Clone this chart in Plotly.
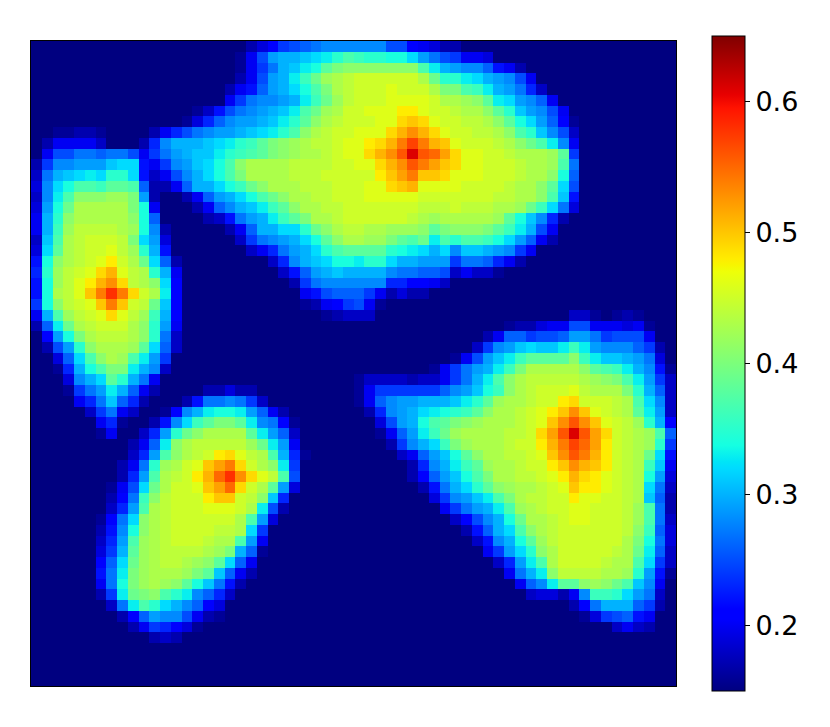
import numpy as np
import plotly.graph_objects as go

N_CELLS = 60
BACKGROUND = 15
TICK_VALUES = [0.2, 0.3, 0.4, 0.5, 0.6]
TICK_LABELS = ["0.2", "0.3", "0.4", "0.5", "0.6"]

# matplotlib's jet, sampled at its own breakpoints
JET = [
    [0.0, "rgb(0,0,128)"], [0.11, "rgb(0,0,255)"], [0.125, "rgb(0,0,255)"],
    [0.34, "rgb(0,219,255)"], [0.35, "rgb(0,229,247)"], [0.375, "rgb(21,255,226)"],
    [0.64, "rgb(238,255,8)"], [0.65, "rgb(247,246,0)"], [0.66, "rgb(255,236,0)"],
    [0.89, "rgb(255,19,0)"], [0.91, "rgb(232,0,0)"], [1.0, "rgb(128,0,0)"],
]

# values, in hundredths: (row, first column, cells)
TOP_BLOB = [
    (0, 20, [17,19,21,24,25,26,27,28,28,28,28,28,28,25,25,21,20,19,17,17]),
    (1, 19, [16,20,25,29,30,30,31,32,33,35,37,36,35,35,34,34,32,29,27,25,24,20,20,19]),
    (2, 19, [16,20,24,27,30,31,33,34,38,40,41,41,41,41,41,41,41,37,33,30,29,28,28,26,22,20,17]),
    (3, 19, [17,20,25,29,30,33,36,39,42,43,44,45,45,45,45,45,45,43,39,35,35,33,32,30,29,28,25,20]),
    (4, 18, [17,20,22,26,29,30,32,34,37,40,43,44,45,45,45,46,45,45,45,43,40,40,37,36,33,30,29,27,23,18]),
    (5, 18, [20,24,27,28,28,29,30,33,36,39,42,44,45,45,45,46,46,46,46,45,43,43,42,41,38,33,32,29,28,26,20]),
    (6, 15, [16,18,22,25,27,28,29,30,31,33,37,39,42,43,45,45,46,46,46,48,48,46,45,45,44,43,43,41,38,35,31,29,28,25,20]),
    (7, 14, [16,19,23,26,28,29,29,30,31,33,35,38,41,43,44,45,45,45,46,46,49,50,49,46,45,45,44,44,43,41,38,34,32,29,26,21,16]),
    (8, 14, [25,27,28,29,29,30,31,32,33,35,37,41,43,44,45,45,46,46,46,49,51,53,51,49,46,45,45,44,44,43,41,37,35,31,28,25,18]),
    (9, 14, [30,30,31,32,33,35,36,38,40,41,42,43,44,44,45,46,46,48,49,51,54,57,54,51,50,46,45,45,45,44,43,41,39,37,33,28,20]),
    (10, 14, [30,31,31,33,35,36,37,38,40,41,42,43,43,44,45,46,46,49,51,53,56,61,56,55,52,49,46,46,45,45,44,43,43,43,42,38,24]),
    (11, 14, [29,31,32,34,37,41,43,43,43,43,44,44,44,44,45,45,46,46,49,51,53,56,54,52,50,49,46,46,45,45,45,44,43,43,42,37,27]),
    (12, 14, [28,30,32,34,37,40,43,43,43,43,44,44,44,45,45,45,45,45,48,50,52,54,50,50,49,46,46,46,45,45,45,44,43,43,41,34,26]),
    (13, 14, [26,30,30,32,34,36,39,41,43,43,43,44,44,44,45,45,45,46,46,49,50,51,46,46,46,46,45,45,45,45,44,43,43,41,38,32,25]),
    (14, 14, [17,20,26,29,30,32,34,37,39,41,43,43,44,44,45,45,45,46,46,46,46,46,45,45,45,45,45,45,45,44,44,43,43,41,37,31,22]),
    (15, 15, [17,20,26,28,30,31,33,36,38,41,43,43,44,44,45,45,45,45,45,45,45,44,44,44,45,44,44,44,43,43,42,39,36,32,27,19]),
    (16, 16, [17,18,22,27,29,30,33,36,38,40,43,43,44,45,45,45,45,45,45,44,43,42,43,43,43,43,43,42,38,34,31,28,23,17]),
    (17, 18, [17,20,26,30,30,32,32,35,39,41,43,44,44,43,43,42,42,42,41,38,40,41,41,41,40,38,36,33,30,25,20]),
    (18, 19, [18,24,27,28,29,30,32,34,38,41,43,43,42,42,40,38,37,39,33,37,35,37,37,36,34,32,29,26,20,17]),
    (19, 20, [18,20,23,27,29,30,32,35,37,38,38,38,38,35,34,33,32,30,32,28,31,31,30,29,28,24,20]),
    (20, 22, [18,23,28,30,31,32,34,34,33,35,35,32,30,30,29,29,29,24,27,27,26,23,20,17]),
    (21, 23, [18,22,26,29,30,31,30,30,30,30,28,27,27,26,26,25,18,20,18,18,16]),
    (22, 24, [17,24,27,28,28,28,28,28,28,23,23,21,21,20,18]),
    (23, 25, [20,22,25,26,26,26,24,20,17,19,17,17]),
    (24, 25, [16,17,20,21,24,25,20,16]),
    (25, 27, [16,17,18,18,18]),
]

LEFT_BLOB = [
    (8, 0, [15,15,16,16,17,17,16,15,15,15,15,17,20,23]),
    (9, 0, [15,17,20,20,20,20,18,15,15,15,17,23,28,30]),
    (10, 0, [15,20,25,25,27,27,26,27,27,25,20,24,27,29]),
    (11, 0, [17,24,28,28,29,29,29,31,32,32,22,20,24,28]),
    (12, 0, [18,27,30,31,32,33,32,35,35,32,22,18,20,25]),
    (13, 0, [19,28,32,34,37,37,36,38,38,37,26,17,17,20]),
    (14, 0, [18,28,33,37,41,41,41,42,42,40,29,17,15,15]),
    (15, 0, [19,29,34,39,43,43,43,43,43,40,34,20,15,15]),
    (16, 0, [20,30,35,41,43,43,43,43,43,41,34,26,15,15]),
    (17, 0, [20,30,36,42,44,44,44,44,43,42,34,28,17,15]),
    (18, 0, [18,31,37,43,44,45,45,45,44,40,32,29,19,15]),
    (19, 0, [19,32,38,43,44,45,45,46,44,42,35,30,22,15]),
    (20, 0, [22,34,41,43,44,45,46,48,45,43,39,32,26,17]),
    (21, 0, [23,35,42,44,45,46,49,51,46,44,43,35,30,20]),
    (22, 0, [22,34,42,44,46,48,51,53,49,44,43,41,32,21]),
    (23, 0, [22,34,43,44,46,50,54,58,54,49,45,43,33,21]),
    (24, 0, [24,34,41,44,45,46,50,54,50,45,44,39,31,21]),
    (25, 0, [20,30,37,42,44,45,46,49,46,44,42,36,30,21]),
    (26, 0, [17,26,33,39,43,44,45,45,45,43,41,35,29,20]),
    (27, 0, [15,21,29,34,40,43,44,44,44,43,41,35,27,18]),
    (28, 0, [15,17,25,29,35,41,43,43,43,42,38,32,26,18]),
    (29, 1, [15,19,26,32,37,41,43,42,37,33,29,24,15]),
    (30, 2, [16,23,30,34,37,40,40,33,30,28,18]),
    (31, 3, [19,28,30,32,38,35,30,27,20]),
    (32, 3, [16,24,27,29,33,30,26,20,17]),
    (33, 4, [20,23,27,31,26,23,17]),
    (34, 5, [18,24,27,20,18]),
    (35, 6, [20,23,16]),
    (36, 6, [16,20]),
]

LOWER_BLOB = [
    (32, 16, [17,17,19,17,17]),
    (33, 14, [17,22,27,27,28,27,24,18]),
    (34, 12, [16,21,28,30,33,34,34,33,29,26,20,17]),
    (35, 11, [17,22,28,32,36,38,40,40,38,33,28,27,21,16]),
    (36, 10, [18,23,29,35,39,41,43,43,43,43,38,33,29,26,18]),
    (37, 9, [17,20,26,33,41,43,44,44,44,44,44,42,39,33,29,20]),
    (38, 9, [18,23,29,37,41,43,44,45,48,49,46,44,43,37,30,23,16]),
    (39, 8, [17,20,27,35,42,43,45,46,50,52,54,49,45,43,41,33,24]),
    (40, 8, [17,23,29,37,43,44,45,48,51,55,58,53,49,46,44,37,25]),
    (41, 7, [16,20,25,32,39,43,45,45,46,50,52,55,49,45,43,38,29,19]),
    (42, 7, [17,21,27,36,41,44,45,45,45,48,50,50,45,44,41,31,23]),
    (43, 7, [18,23,29,37,43,44,45,45,45,46,46,46,45,43,33,25,17]),
    (44, 6, [16,21,27,32,41,43,44,45,45,45,45,45,45,43,37,29,19]),
    (45, 6, [17,22,28,34,41,43,44,45,45,45,45,44,44,43,32,24]),
    (46, 6, [18,23,29,37,42,43,44,45,45,45,44,43,43,37,29,20]),
    (47, 6, [19,24,30,38,42,43,44,44,44,44,43,42,40,30,26,16]),
    (48, 6, [21,26,32,39,42,43,44,44,43,42,41,38,32,26,20]),
    (49, 6, [22,27,33,40,42,43,43,43,42,40,38,31,26,20,17]),
    (50, 6, [20,27,34,40,42,43,42,41,38,34,31,27,22,17]),
    (51, 6, [17,24,33,39,40,41,37,35,33,28,26,23,18]),
    (52, 7, [18,27,33,37,35,32,30,28,26,21,19]),
    (53, 8, [17,21,26,29,28,28,25,20,17,16]),
    (54, 9, [17,20,24,23,21,19,16]),
    (55, 11, [17,18,17]),
]

RIGHT_BLOB = [
    (25, 50, [18,18,16,15,16,17,16]),
    (26, 44, [16,17,17,19,20,20,25,25,20,20,20,19,20,16]),
    (27, 42, [17,20,26,26,24,25,25,26,29,29,27,24,25,25,25,20]),
    (28, 41, [18,24,28,29,31,32,31,31,33,36,33,29,28,28,28,26,24,17]),
    (29, 39, [16,20,25,29,31,33,36,38,38,38,38,41,36,33,31,31,30,29,27,19]),
    (30, 37, [16,20,24,27,29,30,33,36,40,43,43,43,43,43,41,38,37,36,33,30,28,22,16]),
    (31, 30, [16,18,18,18,18,17,18,18,20,24,27,30,33,37,41,43,44,44,44,44,44,43,42,41,40,37,33,29,24,18]),
    (32, 30, [16,20,24,24,24,24,24,24,26,28,29,31,34,36,41,43,44,45,45,45,46,44,43,43,43,40,35,30,26,18]),
    (33, 30, [16,20,26,28,29,29,30,30,30,31,33,35,38,42,43,43,44,45,45,48,49,45,45,45,44,43,37,32,28,18]),
    (34, 31, [17,23,28,29,30,32,33,34,35,36,38,41,43,43,44,45,46,48,50,53,50,46,45,44,43,38,33,29,18]),
    (35, 32, [19,25,29,30,34,37,38,40,41,42,43,43,43,44,45,46,50,53,56,53,50,46,45,44,42,35,30,21]),
    (36, 32, [16,20,26,29,33,36,39,42,43,43,43,43,44,44,45,49,52,56,61,56,52,49,45,44,43,42,37,26]),
    (37, 33, [17,24,28,30,32,36,40,42,43,43,43,44,45,45,48,51,54,57,55,52,48,45,44,43,42,35,24]),
    (38, 34, [18,20,26,29,31,34,38,41,43,43,44,44,45,46,50,53,56,54,51,48,45,44,43,39,32,22]),
    (39, 35, [17,23,28,30,33,36,38,42,43,43,44,45,45,48,50,53,51,50,48,45,44,43,36,31,20]),
    (40, 35, [17,21,26,29,31,34,37,40,43,43,44,44,45,46,48,51,49,48,46,45,44,43,34,29,19]),
    (41, 36, [17,22,27,30,32,35,38,41,42,43,43,44,45,46,50,48,48,46,45,44,43,32,27,18]),
    (42, 37, [19,24,28,29,31,33,37,40,43,44,44,45,45,48,46,46,45,45,44,43,31,26,17]),
    (43, 38, [20,24,27,29,30,33,37,42,43,44,45,45,46,46,45,45,45,44,42,37,27,17]),
    (44, 39, [18,21,25,28,30,34,39,43,43,44,45,46,46,45,45,45,44,42,37,27,18]),
    (45, 40, [17,22,26,30,32,37,41,43,44,45,45,45,45,45,45,44,41,36,26,19]),
    (46, 41, [18,22,28,30,34,38,42,44,45,45,45,45,45,45,43,40,34,27,19]),
    (47, 42, [20,24,29,32,35,41,43,45,45,45,45,45,44,43,39,33,26,18]),
    (48, 43, [18,23,29,33,37,43,45,45,45,45,44,43,43,37,32,24,18]),
    (49, 44, [20,27,30,33,41,44,44,44,44,43,43,42,35,29,22,16]),
    (50, 45, [20,26,28,33,38,38,41,42,41,39,37,31,28,20]),
    (51, 46, [18,19,19,17,20,28,36,36,35,32,29,27,18]),
    (52, 50, [17,21,27,30,30,30,26,24,17]),
    (53, 51, [16,19,24,25,26,22,20]),
    (54, 54, [18,20,18,17]),
]

z = np.full((N_CELLS, N_CELLS), BACKGROUND / 100)
for blob in (TOP_BLOB, LEFT_BLOB, LOWER_BLOB, RIGHT_BLOB):
    for row, col, cells in blob:
        z[row, col:col + len(cells)] = np.array(cells) / 100

W, H = 830, 727

fig = go.Figure(go.Heatmap(
    z=z,
    zmin=0.15,
    zmax=0.65,
    colorscale=JET,
    colorbar=dict(
        x=712 / W, xanchor="left", xref="paper", xpad=0,
        y=1 - 691 / H, yanchor="bottom", yref="paper", ypad=0,
        len=655 / H, lenmode="fraction",
        thickness=33, thicknessmode="pixels",
        outlinecolor="black", outlinewidth=1,
        tickmode="array", tickvals=TICK_VALUES, ticktext=TICK_LABELS,
        ticks="outside", ticklen=5, tickwidth=1, tickcolor="black",
        tickfont=dict(family="DejaVu Sans", size=27, color="black"),
    ),
))

axis_style = dict(showticklabels=False, ticks="", showgrid=False, zeroline=False,
                  showline=True, linecolor="black", linewidth=1, mirror=True)
fig.update_xaxes(domain=[31 / W, 676 / W], range=[-0.5, N_CELLS - 0.5], **axis_style)
fig.update_yaxes(domain=[1 - 686 / H, 1 - 41 / H], range=[N_CELLS - 0.5, -0.5], **axis_style)

fig.update_layout(width=W, height=H, margin=dict(l=0, r=0, t=0, b=0),
                  paper_bgcolor="white", plot_bgcolor="white")

fig.write_html("out.html", config={"displayModeBar": False},
               post_script="document.body.style.margin='0';")
